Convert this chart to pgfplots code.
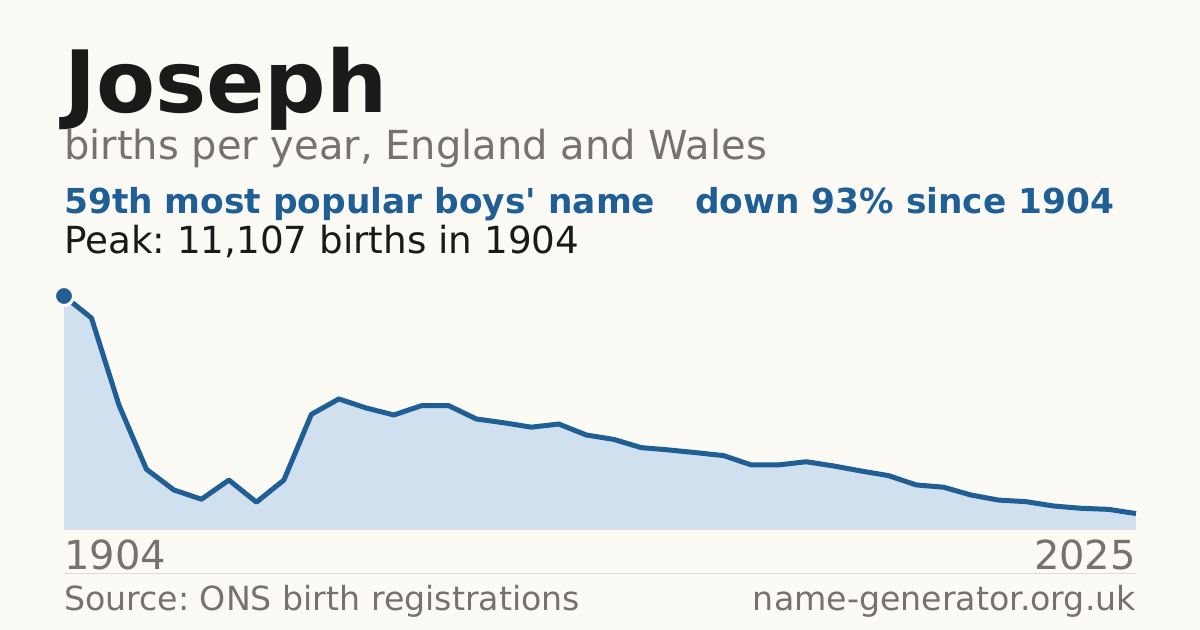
\documentclass[border=0pt]{standalone}
\usepackage{pgfplots}
\pgfplotsset{compat=1.18}
\usepackage{pgfplotstable}
\usepackage{fontspec}
\setmainfont{DejaVu Sans}
\frenchspacing

\definecolor{bg}{HTML}{FBFAF5}
\definecolor{ink}{HTML}{1A1A1A}
\definecolor{greytxt}{HTML}{77726B}
\definecolor{navy}{HTML}{1F5F96}
\definecolor{areafill}{HTML}{D0E0EF}
\definecolor{rule}{HTML}{E0DCD3}

% 1904, 1914, ..., 1994, then 1996--2025, plotted by index
\pgfplotstableread{
i births
0 11107
1 10060
2 5930
3 2880
4 1900
5 1460
6 2370
7 1320
8 2370
9 5490
10 6220
11 5790
12 5460
13 5900
14 5900
15 5270
16 5090
17 4880
18 5030
19 4510
20 4300
21 3910
22 3800
23 3670
24 3530
25 3090
26 3090
27 3240
28 3040
29 2800
30 2580
31 2140
32 2030
33 1660
34 1420
35 1345
36 1140
37 1030
38 980
39 780
}\joseph

\begin{document}
\begin{tikzpicture}
\fill[bg] (0,0) rectangle (1200bp,630bp);
\useasboundingbox (0,0) rectangle (1200bp,630bp);

\node[anchor=base west, inner sep=0, text=ink, font=\fontsize{86bp}{86bp}\selectfont\bfseries] at (64bp,517bp) {Joseph};
\node[anchor=base west, inner sep=0, text=greytxt, font=\fontsize{40bp}{40bp}\selectfont] at (64bp,470bp) {births per year, England and Wales};
\node[anchor=base west, inner sep=0, text=navy, font=\fontsize{34.4bp}{34bp}\selectfont\bfseries] at (64bp,416bp) {59th most popular boys\textquotesingle{} name};
\node[anchor=base west, inner sep=0, text=navy, font=\fontsize{34.4bp}{34bp}\selectfont\bfseries] at (695bp,416bp) {down 93\% since 1904};
\node[anchor=base west, inner sep=0, text=ink, font=\fontsize{37.3bp}{37bp}\selectfont] at (64bp,376bp) {Peak: 11,107 births in 1904};

\begin{axis}[at={(64bp,100bp)}, anchor=south west, scale only axis,
    width=1072bp, height=234bp, xmin=0, xmax=39, ymin=0, ymax=11107,
    hide axis, clip=false]
  \addplot[draw=none, fill=areafill] table[x=i, y=births] {\joseph} \closedcycle;
  \addplot[rule, line width=1bp] coordinates {(0,0) (39,0)};
  \addplot[navy, line width=5bp, line join=round, mark=none] table[x=i, y=births] {\joseph};
  \addplot[only marks, mark=*, mark size=9.5bp, mark options={fill=navy, draw=bg, line width=3bp}] coordinates {(0,11107)};
\end{axis}

\node[anchor=base west, inner sep=0, text=greytxt, font=\fontsize{40bp}{40bp}\selectfont] at (64bp,60bp) {1904};
\node[anchor=base east, inner sep=0, text=greytxt, font=\fontsize{40bp}{40bp}\selectfont] at (1136bp,60bp) {2025};
\draw[rule, line width=1bp] (64bp,56bp) -- (1136bp,56bp);
\node[anchor=base west, inner sep=0, text=greytxt, font=\fontsize{33.2bp}{33bp}\selectfont] at (64bp,20bp) {Source: ONS birth registrations};
\node[anchor=base east, inner sep=0, text=greytxt, font=\fontsize{33.2bp}{33bp}\selectfont] at (1136bp,20bp) {name-generator.org.uk};
\end{tikzpicture}
\end{document}
